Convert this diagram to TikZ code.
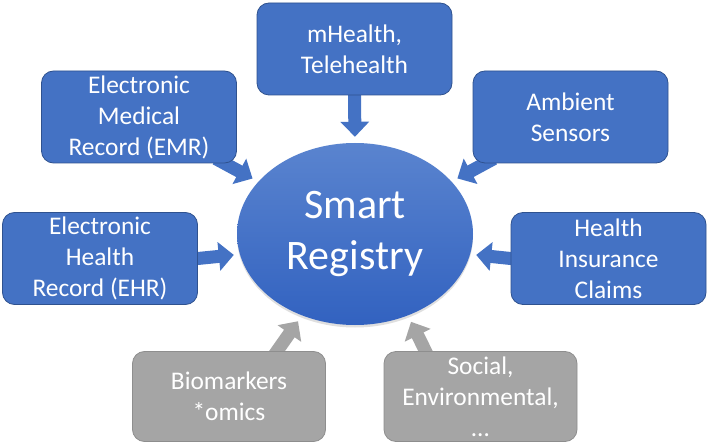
\documentclass[tikz,border=0pt]{standalone}
\usepackage{fontspec}
\setmainfont{Carlito}
\usetikzlibrary{arrows.meta,calc,shadows,backgrounds,shapes.geometric}
\definecolor{boxblue}{HTML}{4472C4}
\definecolor{edgeblue}{HTML}{2F528F}
\definecolor{boxgrey}{HTML}{A5A5A5}
\definecolor{edgegrey}{HTML}{8E8E8E}
\definecolor{elltop}{HTML}{5A84CF}
\definecolor{ellbot}{HTML}{3262C0}
\tikzset{
  srcbox/.style={rectangle, rounded corners=12pt, minimum width=195pt, minimum height=92pt,
    inner sep=0pt, align=center, text=white, font=\fontsize{25.4}{31}\selectfont, line width=0.8pt},
  bluebox/.style={srcbox, fill=boxblue, draw=edgeblue},
  greybox/.style={srcbox, fill=boxgrey, draw=edgegrey, minimum width=193pt, minimum height=90pt},
  fatarrow/.style={line width=13pt, -{Triangle[width=28pt,length=15pt]}, shorten <=-10pt},
  bluearrow/.style={fatarrow, draw=boxblue},
  greyarrow/.style={fatarrow, draw=boxgrey},
  hub/.style={ellipse, minimum width=236pt, minimum height=182pt, inner sep=0pt, align=center,
    text=white, font=\fontsize{42}{51.5}\selectfont, top color=elltop, bottom color=ellbot,
    drop shadow={shadow xshift=0pt, shadow yshift=-2.5pt, opacity=0.25}}
}
\begin{document}
\begin{tikzpicture}[x=1pt, y=-1pt]
  \useasboundingbox (0,0) rectangle (709,446);

  \node[hub] (reg) at (355,234) {Smart\\Registry};

  \node[bluebox] (mh)  at (354.5,49)   {mHealth,\\Telehealth};
  \node[bluebox] (emr) at (139,117)    {Electronic\\Medical\\Record (EMR)};
  \node[bluebox] (amb) at (570.5,117)  {Ambient\\Sensors};
  \node[bluebox] (ehr) at (100,258.5)  {Electronic\\Health\\Record (EHR)};
  \node[bluebox] (hi)  at (608.5,258.5){Health\\Insurance\\Claims};
  \node[greybox] (bio) at (229,396.5)  {Biomarkers\\*omics};
  \node[greybox] (soc) at (480.5,396.5){Social,\\Environmental,\\…};

  \begin{scope}[on background layer]
    \fill[white] (0,0) rectangle (709,446);
    \draw[bluearrow, shorten >=6pt] (mh.south) -- (reg.north);
    \draw[bluearrow, shorten >=6.5pt] (emr) -- (reg);
    \draw[bluearrow, shorten >=6.5pt] (amb) -- (reg);
    \draw[bluearrow, shorten >=6pt] (ehr.east) -- (reg.190);
    \draw[bluearrow, shorten >=6pt] (hi.west) -- (reg.-10);
    \draw[greyarrow, shorten >=7pt] ($(bio.north)+(48,0)$) -- (reg.-123);
    \draw[greyarrow, shorten >=7pt] ($(soc.north)+(-55,0)$) -- (reg.-57);
  \end{scope}
\end{tikzpicture}
\end{document}
